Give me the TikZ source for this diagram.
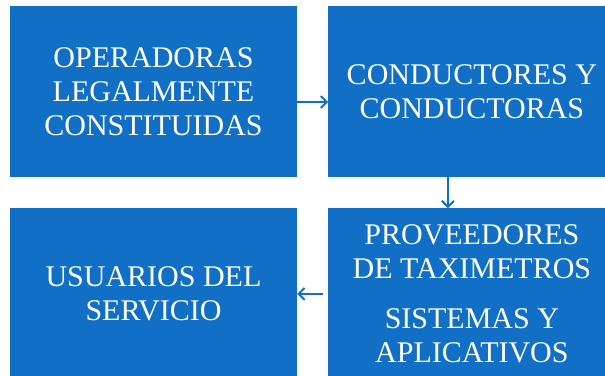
\documentclass[tikz,border=0pt]{standalone}
\usepackage{fontspec}
\setmainfont{Liberation Serif}
\usetikzlibrary{shapes,arrows.meta,positioning,calc}
\definecolor{azul}{RGB}{17,112,197}

\begin{document}
\begin{tikzpicture}[x=1pt,y=-1pt,
  bloque/.style={rectangle,fill=azul,text=white,minimum width=287pt,minimum height=171pt,inner sep=0pt,align=center,font=\fontsize{30}{34}\selectfont},
  flecha/.style={-{Straight Barb[length=6pt,width=12pt,line width=2pt]},draw=azul,line width=2pt}]
\path[use as bounding box,clip] (0,0) rectangle (605,375);
\fill[white] (0,0) rectangle (605,375);
\node[bloque] (oper) at (153.5,91.5) {OPERADORAS\\LEGALMENTE\\CONSTITUIDAS};
\node[bloque,right=31pt of oper] (cond) {CONDUCTORES Y\\CONDUCTORAS};
\node[bloque,below=31pt of cond] (prov) {PROVEEDORES\\DE TAXIMETROS\\[16pt]SISTEMAS Y\\APLICATIVOS};
\node[bloque,below=31pt of oper] (usua) {USUARIOS DEL\\SERVICIO};
\draw[flecha] ([yshift=-10.5pt]oper.east) -- ([yshift=-10.5pt]cond.west);
\draw[flecha] ([xshift=-24pt]cond.south) -- ([xshift=-24pt]prov.north);
\draw[flecha] ([xshift=-5pt]prov.west) -- (usua.east);
\end{tikzpicture}
\end{document}
